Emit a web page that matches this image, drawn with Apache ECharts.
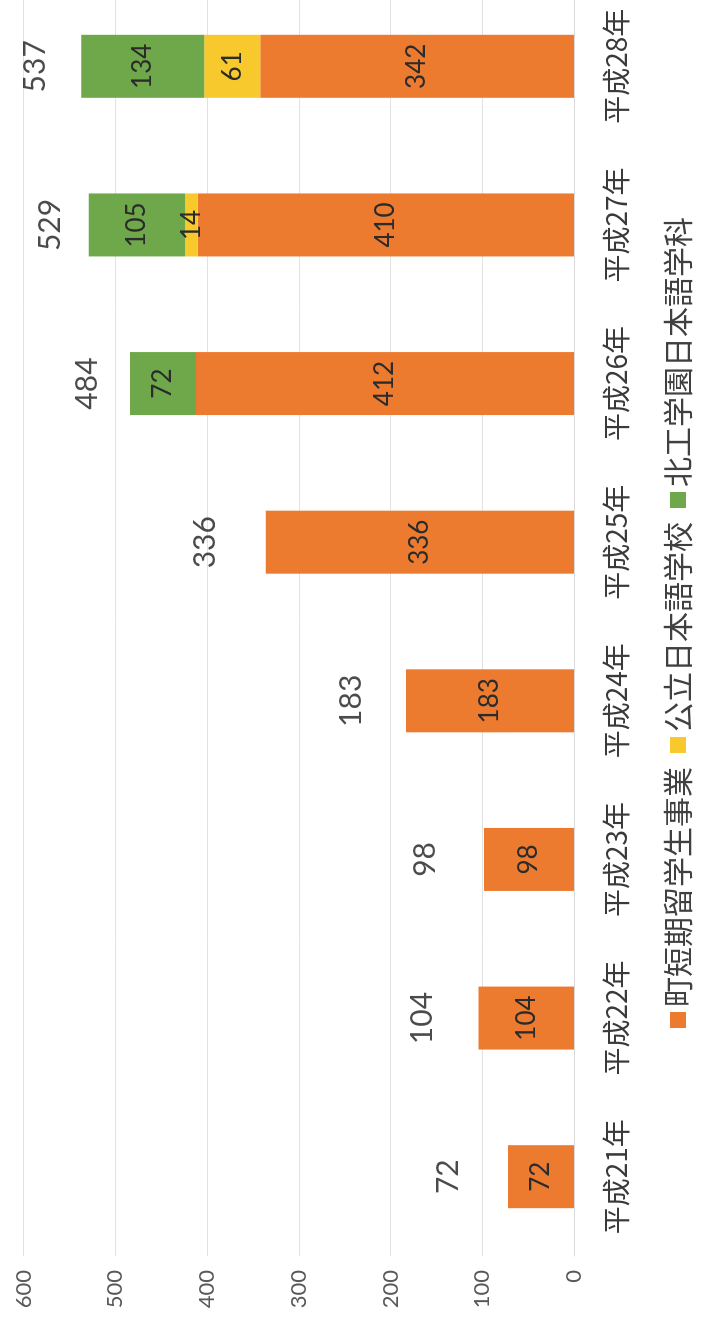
<!DOCTYPE html>
<html lang="ja">
<head>
<meta charset="utf-8">
<title>留学生受入数の推移</title>
<script src="https://cdn.jsdelivr.net/npm/echarts@6/dist/echarts.min.js"></script>
<style>
  html, body { margin: 0; padding: 0; width: 702px; height: 1327px; overflow: hidden; background: #fff; }
  /* The chart is laid out landscape and turned a quarter turn so it reads sideways on the page. */
  #chart {
    position: absolute; left: 0; top: 0;
    width: 1345px; height: 702px;
    transform-origin: 0 0;
    transform: translate(0px, 1327px) rotate(-90deg);
  }
</style>
</head>
<body>
<div id="chart"></div>
<script>
// Fiscal years
const years = ['平成21年', '平成22年', '平成23年', '平成24年', '平成25年', '平成26年', '平成27年', '平成28年'];

// Students per programme (null = programme not yet running)
const townShortTerm = [72, 104, 98, 183, 336, 412, 410, 342];          // 町短期留学生事業
const publicSchool  = [null, null, null, null, null, null, 14, 61];   // 公立日本語学校
const hokkoGakuen   = [null, null, null, null, null, 72, 105, 134];   // 北工学園日本語学科

const seriesNames = ['町短期留学生事業', '公立日本語学校', '北工学園日本語学科'];

// Value axis ticks
const valueTicks = [0, 100, 200, 300, 400, 500, 600];

// Totals per year, summed from the three programmes
const totals = years.map((_, i) =>
  (townShortTerm[i] || 0) + (publicSchool[i] || 0) + (hokkoGakuen[i] || 0));

// How far (px) each total label sits beyond the end of its bar
const totalLabelLift = [60, 56, 59, 55, 60, 43, 38, 46];

const colors = ['#EC7B2F', '#F7C92C', '#6EA84A'];
const latin = 'Lato, "Noto Sans", sans-serif';
const cjk = '"Noto Sans CJK JP", "Noto Sans", sans-serif';

const chart = echarts.init(document.getElementById('chart'), null, { renderer: 'canvas' });

const segmentLabel = {
  show: true,
  position: 'inside',
  fontFamily: latin,
  fontSize: 26,
  color: '#2b2b2b'
};

function barSeries(name, data, color) {
  return {
    name: name,
    type: 'bar',
    stack: 'total',
    barWidth: 63,
    data: data,
    itemStyle: { color: color },
    label: segmentLabel,
    emphasis: { disabled: true }
  };
}

chart.setOption({
  backgroundColor: '#ffffff',
  animation: false,
  grid: { left: 71, right: 5, top: 23.5, bottom: 128, containLabel: false },
  legend: {
    data: seriesNames,
    left: 294,
    top: 658,
    itemWidth: 16,
    itemHeight: 16,
    itemGap: 14,
    icon: 'rect',
    textStyle: { fontFamily: cjk, fontSize: 30, color: '#404040' }
  },
  xAxis: {
    type: 'category',
    data: years,
    axisLine: { show: true, lineStyle: { color: '#d9d9d9', width: 1 } },
    axisTick: { show: false },
    axisLabel: { margin: 28, fontFamily: cjk, fontSize: 28, color: '#3a3a3a' }
  },
  yAxis: {
    type: 'value',
    min: valueTicks[0],
    max: valueTicks[valueTicks.length - 1],
    interval: valueTicks[1] - valueTicks[0],
    axisLine: { show: false },
    axisTick: { show: false },
    splitLine: { show: true, lineStyle: { color: '#e2e2e2', width: 1 } },
    axisLabel: { margin: 14, fontFamily: latin, fontSize: 22, color: '#595959' }
  },
  series: [
    barSeries(seriesNames[0], townShortTerm, colors[0]),
    barSeries(seriesNames[1], publicSchool, colors[1]),
    barSeries(seriesNames[2], hokkoGakuen, colors[2]),
    {
      name: '合計',
      type: 'scatter',
      symbolSize: 0,
      silent: true,
      data: totals.map((v, i) => ({
        value: v,
        label: { offset: [0, -totalLabelLift[i]] }
      })),
      label: {
        show: true,
        position: 'inside',
        fontFamily: latin,
        fontSize: 30,
        color: '#1e1e1e',
        formatter: p => String(p.value)
      }
    }
  ]
});
</script>
</body>
</html>
